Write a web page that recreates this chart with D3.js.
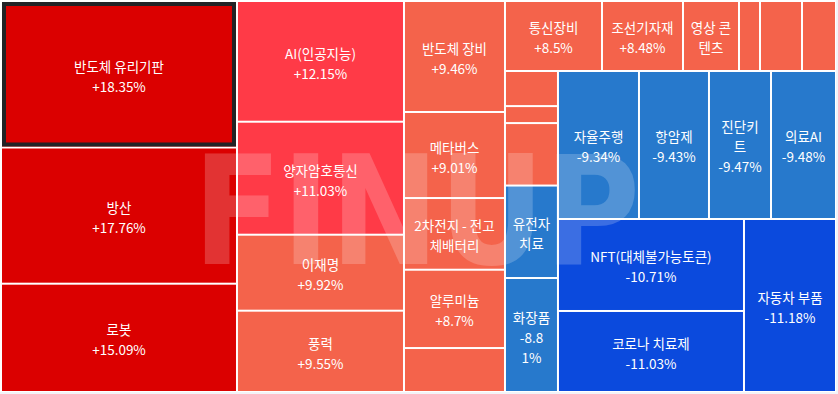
<!DOCTYPE html>
<html>
<head>
<meta charset="utf-8">
<script src="https://cdn.jsdelivr.net/npm/d3@7"></script>
<style>
  body { margin:0; background:#f3f4f8; }
  svg { display:block; }
</style>
</head>
<body>
<div id="chart"></div>
<script>
// theme names, in treemap order (null = too small to be labelled in the picture)
var themes = ["반도체 유리기판","방산","로봇",
  "AI(인공지능)","양자암호통신","이재명","풍력",
  "반도체 장비","메타버스","2차전지 - 전고체배터리","알루미늄",null,
  "통신장비","조선기자재","영상 콘텐츠",null,null,null,
  null,null,null,"유전자 치료","화장품",
  "자율주행","항암제","진단키트","의료AI",
  "NFT(대체불가능토큰)","코로나 치료제",
  "자동차 부품"]
// % change (the unlabelled / hidden ones are estimates)
var changes = [18.35,17.76,15.09,
  12.15,11.03,9.92,9.55,
  9.46,9.01,8.85,8.7,8.6,
  8.5,8.48,8.45,8.4,8.35,8.3,
  8.25,8.2,8.15,-8.6,-8.81,
  -9.34,-9.43,-9.47,-9.48,
  -10.71,-11.03,
  -11.18]
// box sizes
var sizes = [3457,3214,2556,
  2016,1887,1269,1358,
  1121,869,724,791,444,
  679,567,392,147,294,238,
  186,90,331,490,604,
  1199,1036,918,962,
  1711,1507,
  1592]
// how many boxes go in each strip
var rowSizes = [3,4,5,6,5,4,2,1]
var selectedTheme = "반도체 유리기판"

var colorSteps = [-10, 0, 10, 15]
var colorRange = ["#0b4add","#2779cc","#f4634b","#ff3a47","#db0000"]

var width = 838, height = 394
var lineH = 20
var fontSize = "13.5px"
var font = "'Noto Sans CJK KR','Noto Sans',sans-serif"

var color = d3.scaleThreshold().domain(colorSteps).range(colorRange)

var data = themes.map(function(t,i){ return {name:t, change:changes[i], size:sizes[i]} })

// strips: column when the space left is wide, row when it is tall
function stripTile(parent, x0, y0, x1, y1){
  var nodes = parent.children
  var rest = parent.value
  var i = 0
  rowSizes.forEach(function(n){
    var row = nodes.slice(i, i+n)
    var sum = d3.sum(row, function(d){ return d.value })
    var part = {children: row, value: sum}
    if (x1 - x0 >= y1 - y0){
      var xm = x0 + (x1 - x0) * sum / rest
      d3.treemapSlice(part, x0, y0, xm, y1)
      x0 = xm
    } else {
      var ym = y0 + (y1 - y0) * sum / rest
      d3.treemapDice(part, x0, y0, x1, ym)
      y0 = ym
    }
    rest -= sum
    i += n
  })
}

var root = d3.hierarchy({children:data}).sum(function(d){ return d.size || 0 })
d3.treemap().size([833,389]).paddingInner(2).tile(stripTile)(root)

var svg = d3.select("#chart").append("svg").attr("width",width).attr("height",height)
svg.append("rect").attr("width",836).attr("height",392).attr("fill","#fff")

var g = svg.append("g").attr("transform","translate(2,2)")

var cells = g.selectAll("g.cell").data(root.leaves()).enter().append("g").attr("class","cell")

cells.append("rect")
  .attr("x",function(d){ return d.x0 })
  .attr("y",function(d){ return d.y0 })
  .attr("width",function(d){ return d.x1-d.x0 })
  .attr("height",function(d){ return d.y1-d.y0 })
  .attr("fill",function(d){ return color(d.data.change) })

// selected theme gets a dark frame inside its box
cells.filter(function(d){ return d.data.name == selectedTheme })
  .append("rect")
  .attr("x",function(d){ return d.x0+2 })
  .attr("y",function(d){ return d.y0+2 })
  .attr("width",function(d){ return d.x1-d.x0-4 })
  .attr("height",function(d){ return d.y1-d.y0-4 })
  .attr("fill","none")
  .attr("stroke","#232326")
  .attr("stroke-width",4)

// watermark
svg.append("text")
  .attr("x",193).attr("y",264)
  .attr("textLength",447).attr("lengthAdjust","spacingAndGlyphs")
  .style("font-family","'DejaVu Sans',sans-serif")
  .style("font-weight","bold")
  .style("font-size","151px")
  .attr("fill","#fff").attr("fill-opacity",0.2)
  .text("FINUP")

// text wrapping, broken at any character like the page does
var measure = svg.append("text").style("font-family",font).style("font-size",fontSize).attr("opacity",0)
function textW(s){ measure.text(s); return measure.node().getComputedTextLength() }
function wrap(str, avail){
  var lines = [], cur = ""
  for (var k = 0; k < str.length; k++){
    var ch = str[k]
    if (cur == "" && ch == " ") continue
    if (cur != "" && textW(cur+ch) > avail){
      // no break right before a % sign: take the digit along
      if (ch == "%" && cur.length > 1){
        lines.push(cur.slice(0,-1).trim())
        cur = cur.slice(-1) + ch
      } else {
        lines.push(cur.trim())
        cur = ch == " " ? "" : ch
      }
    } else {
      cur += ch
    }
  }
  if (cur.trim() != "") lines.push(cur.trim())
  return lines
}
function pctText(v){ return (v > 0 ? "+" : "") + v + "%" }

var labels = svg.append("g").attr("transform","translate(2,2)")
root.leaves().forEach(function(d){
  if (!d.data.name) return
  var w = d.x1-d.x0, h = d.y1-d.y0
  var avail = w - 12
  var nameLines = wrap(d.data.name, avail)
  var lines = nameLines
  if (!(nameLines.length > 1 && h < 100)) lines = nameLines.concat(wrap(pctText(d.data.change), avail))
  if (lines.length*lineH > h) return
  var cx = (d.x0+d.x1)/2, cy = (d.y0+d.y1)/2 + 1.5
  lines.forEach(function(l,i){
    labels.append("text")
      .attr("x",cx)
      .attr("y",cy + (i-(lines.length-1)/2)*lineH)
      .attr("text-anchor","middle")
      .attr("dominant-baseline","central")
      .style("font-family",font)
      .style("font-size",fontSize)
      .attr("fill","#fff")
      .text(l)
  })
})
measure.remove()
</script>
</body>
</html>
